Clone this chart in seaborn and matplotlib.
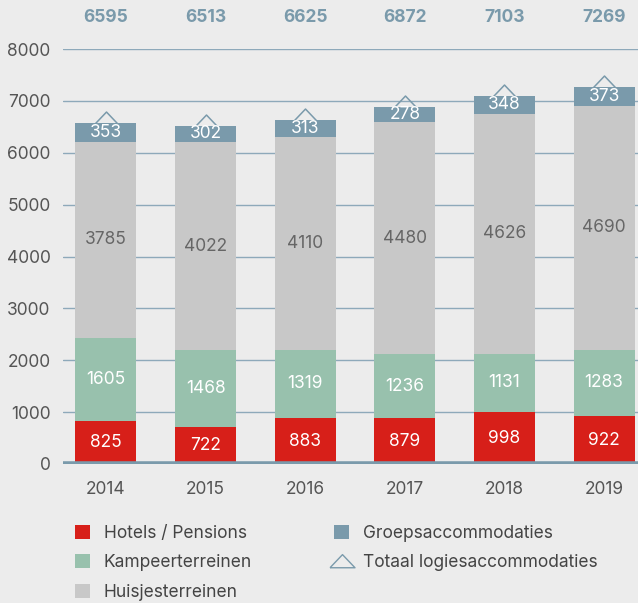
import pandas as pd
import seaborn as sns
import matplotlib.pyplot as plt
from matplotlib.patches import Patch
from matplotlib.lines import Line2D

# data
years = ["2014", "2015", "2016", "2017", "2018", "2019"]
hotels = [825, 722, 883, 879, 998, 922]
kampeer = [1605, 1468, 1319, 1236, 1131, 1283]
huisjes = [3785, 4022, 4110, 4480, 4626, 4690]
groeps = [353, 302, 313, 278, 348, 373]
totaal = [6595, 6513, 6625, 6872, 7103, 7269]

series_names = ["Hotels / Pensions", "Kampeerterreinen", "Huisjesterreinen", "Groepsaccommodaties"]
colors = ["#d71f19", "#98c1ad", "#c8c8c8", "#7a9aab"]
label_colors = ["white", "white", "#666666", "white"]

bg = "#ececec"
accent = "#7a9aab"
txt = "#555555"

sns.set_theme(style="white")
plt.rcParams["font.family"] = ["Inter", "DejaVu Sans"]

df = pd.DataFrame({"year": years, "Hotels / Pensions": hotels, "Kampeerterreinen": kampeer,
                   "Huisjesterreinen": huisjes, "Groepsaccommodaties": groeps})
cum = df[series_names].cumsum(axis=1)

fig = plt.figure(figsize=(6.38, 6.03), dpi=100, facecolor=bg)
ax = fig.add_axes([63 / 638, 139 / 603, 1 - 63 / 638, 415 / 603])
ax.set_facecolor(bg)

# gridlines
for v in range(1000, 9000, 1000):
    ax.axhline(v, color="#8ea9ba", lw=1, zorder=0)

# stacked bars: draw cumulative heights from top layer down
for name, col in reversed(list(zip(series_names, colors))):
    sns.barplot(x=df["year"], y=cum[name], color=col, width=0.61, saturation=1,
                ax=ax, zorder=2, edgecolor="none", linewidth=0)

# segment labels
for i in range(len(years)):
    bottom = 0
    for name, lc in zip(series_names, label_colors):
        h = df[name][i]
        ax.text(i, bottom + h / 2, str(h), ha="center", va="center", color=lc,
                fontsize=12.5, zorder=5)
        bottom += h

# total markers sitting on bar tops
tri = [(-1, 0), (0, 1.05), (1, 0)]
ax.plot(range(len(years)), cum["Groepsaccommodaties"], linestyle="none", marker=tri,
        markersize=16.5, markerfacecolor="none", markeredgecolor=accent,
        markeredgewidth=1.1, zorder=4, clip_on=False)

# total values above the chart
for i, t in enumerate(totaal):
    ax.text(i, 8600, str(t), ha="center", va="center", color=accent,
            fontsize=12.5, fontweight="bold", clip_on=False)

ax.axhline(0, color=accent, lw=4, zorder=3)

ax.set_ylim(0, 8000)
ax.set_xlim(-0.43, 5.34)
ax.set_yticks(range(0, 9000, 1000))
ax.set_xlabel("")
ax.set_ylabel("")
ax.tick_params(axis="both", length=0, labelsize=12.5, labelcolor=txt)
ax.tick_params(axis="y", pad=9)
ax.tick_params(axis="x", pad=12)
sns.despine(ax=ax, left=True, bottom=True, top=True, right=True)

handles = [Patch(facecolor=c, edgecolor="none") for c in colors]
tri_leg = [(-1, -0.5), (0, 0.55), (1, -0.5), (-1, -0.5)]
handles.append(Line2D([], [], linestyle="none", marker=tri_leg, markersize=18,
                      markerfacecolor="none", markeredgecolor=accent, markeredgewidth=1))
labels = series_names + ["Totaal logiesaccommodaties"]
fig.legend(handles, labels, ncol=2,
           loc="upper left", bbox_to_anchor=(0.104, 0.144), frameon=False,
           fontsize=12.5, labelcolor="#444444", handlelength=0.85, handleheight=0.85,
           handletextpad=0.8, columnspacing=4.75, labelspacing=0.72, borderpad=0)

fig.savefig("out.png", dpi=100, facecolor=bg)
